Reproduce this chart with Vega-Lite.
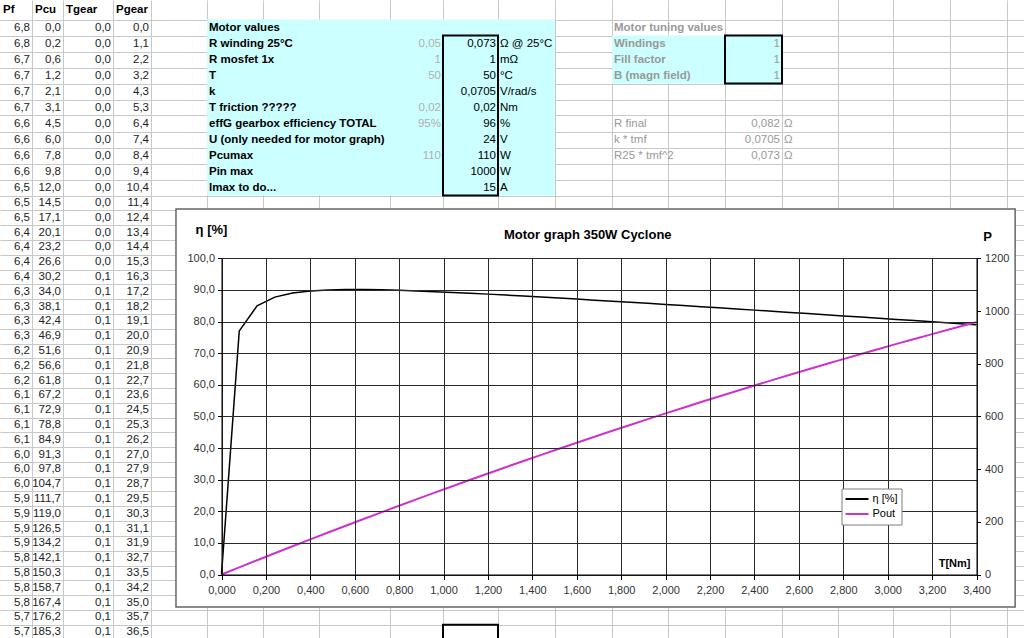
{
"$schema":"https://vega.github.io/schema/vega-lite/v6.json",
"width":1024,"height":638,"autosize":"none","padding":0,"background":"#ffffff",
"title":{"text":"Motor graph 350W Cyclone","anchor":"start","frame":"group","offset":0,"dx":504,"dy":251.5,"baseline":"alphabetic","fontSize":13,"fontWeight":"bold","font":"Liberation Sans","color":"#000000"},
"config":{"font":"Liberation Sans","view":{"stroke":null},"locale":{"number":{"decimal":",","thousands":".","grouping":[3],"currency":["","€"]}}},
"datasets":{
"tbl":[
{"r":0,"Pf":6.8,"Pcu":0.0,"Tgear":0.0,"Pgear":0.0},
{"r":1,"Pf":6.8,"Pcu":0.2,"Tgear":0.0,"Pgear":1.1},
{"r":2,"Pf":6.7,"Pcu":0.6,"Tgear":0.0,"Pgear":2.2},
{"r":3,"Pf":6.7,"Pcu":1.2,"Tgear":0.0,"Pgear":3.2},
{"r":4,"Pf":6.7,"Pcu":2.1,"Tgear":0.0,"Pgear":4.3},
{"r":5,"Pf":6.7,"Pcu":3.1,"Tgear":0.0,"Pgear":5.3},
{"r":6,"Pf":6.6,"Pcu":4.5,"Tgear":0.0,"Pgear":6.4},
{"r":7,"Pf":6.6,"Pcu":6.0,"Tgear":0.0,"Pgear":7.4},
{"r":8,"Pf":6.6,"Pcu":7.8,"Tgear":0.0,"Pgear":8.4},
{"r":9,"Pf":6.6,"Pcu":9.8,"Tgear":0.0,"Pgear":9.4},
{"r":10,"Pf":6.5,"Pcu":12.0,"Tgear":0.0,"Pgear":10.4},
{"r":11,"Pf":6.5,"Pcu":14.5,"Tgear":0.0,"Pgear":11.4},
{"r":12,"Pf":6.5,"Pcu":17.1,"Tgear":0.0,"Pgear":12.4},
{"r":13,"Pf":6.4,"Pcu":20.1,"Tgear":0.0,"Pgear":13.4},
{"r":14,"Pf":6.4,"Pcu":23.2,"Tgear":0.0,"Pgear":14.4},
{"r":15,"Pf":6.4,"Pcu":26.6,"Tgear":0.0,"Pgear":15.3},
{"r":16,"Pf":6.4,"Pcu":30.2,"Tgear":0.1,"Pgear":16.3},
{"r":17,"Pf":6.3,"Pcu":34.0,"Tgear":0.1,"Pgear":17.2},
{"r":18,"Pf":6.3,"Pcu":38.1,"Tgear":0.1,"Pgear":18.2},
{"r":19,"Pf":6.3,"Pcu":42.4,"Tgear":0.1,"Pgear":19.1},
{"r":20,"Pf":6.3,"Pcu":46.9,"Tgear":0.1,"Pgear":20.0},
{"r":21,"Pf":6.2,"Pcu":51.6,"Tgear":0.1,"Pgear":20.9},
{"r":22,"Pf":6.2,"Pcu":56.6,"Tgear":0.1,"Pgear":21.8},
{"r":23,"Pf":6.2,"Pcu":61.8,"Tgear":0.1,"Pgear":22.7},
{"r":24,"Pf":6.1,"Pcu":67.2,"Tgear":0.1,"Pgear":23.6},
{"r":25,"Pf":6.1,"Pcu":72.9,"Tgear":0.1,"Pgear":24.5},
{"r":26,"Pf":6.1,"Pcu":78.8,"Tgear":0.1,"Pgear":25.3},
{"r":27,"Pf":6.1,"Pcu":84.9,"Tgear":0.1,"Pgear":26.2},
{"r":28,"Pf":6.0,"Pcu":91.3,"Tgear":0.1,"Pgear":27.0},
{"r":29,"Pf":6.0,"Pcu":97.8,"Tgear":0.1,"Pgear":27.9},
{"r":30,"Pf":6.0,"Pcu":104.7,"Tgear":0.1,"Pgear":28.7},
{"r":31,"Pf":5.9,"Pcu":111.7,"Tgear":0.1,"Pgear":29.5},
{"r":32,"Pf":5.9,"Pcu":119.0,"Tgear":0.1,"Pgear":30.3},
{"r":33,"Pf":5.9,"Pcu":126.5,"Tgear":0.1,"Pgear":31.1},
{"r":34,"Pf":5.9,"Pcu":134.2,"Tgear":0.1,"Pgear":31.9},
{"r":35,"Pf":5.8,"Pcu":142.1,"Tgear":0.1,"Pgear":32.7},
{"r":36,"Pf":5.8,"Pcu":150.3,"Tgear":0.1,"Pgear":33.5},
{"r":37,"Pf":5.8,"Pcu":158.7,"Tgear":0.1,"Pgear":34.2},
{"r":38,"Pf":5.8,"Pcu":167.4,"Tgear":0.1,"Pgear":35.0},
{"r":39,"Pf":5.7,"Pcu":176.2,"Tgear":0.1,"Pgear":35.7},
{"r":40,"Pf":5.7,"Pcu":185.3,"Tgear":0.1,"Pgear":36.5}
],
"motorRows":[
{"r":0,"label":"Motor values"},
{"r":1,"label":"R winding 25°C","ref":"0,05","val":"0,073","unit":"Ω @ 25°C"},
{"r":2,"label":"R mosfet 1x","ref":"1","val":"1","unit":"mΩ"},
{"r":3,"label":"T","ref":"50","val":"50","unit":"°C"},
{"r":4,"label":"k","val":"0,0705","unit":"V/rad/s"},
{"r":5,"label":"T friction ?????","ref":"0,02","val":"0,02","unit":"Nm"},
{"r":6,"label":"effG gearbox efficiency TOTAL","ref":"95%","val":"96","unit":"%"},
{"r":7,"label":"U (only needed for motor graph)","val":"24","unit":"V"},
{"r":8,"label":"Pcumax","ref":"110","val":"110","unit":"W"},
{"r":9,"label":"Pin max","val":"1000","unit":"W"},
{"r":10,"label":"Imax to do...","val":"15","unit":"A"}
],
"tuneTop":[
{"r":0,"label":"Motor tuning values"},
{"r":1,"label":"Windings","val":"1"},
{"r":2,"label":"Fill factor","val":"1"},
{"r":3,"label":"B (magn field)","val":"1"}
],
"tuneCalc":[
{"r":6,"label":"R final","val":"0,082","unit":"Ω"},
{"r":7,"label":"k * tmf","val":"0,0705","unit":"Ω"},
{"r":8,"label":"R25 * tmf^2","val":"0,073","unit":"Ω"}
],
"curve":[
{"T":0,"eta":0,"P":0},
{"T":0.08,"eta":77.03,"P":27.1},
{"T":0.16,"eta":84.94,"P":54.0},
{"T":0.24,"eta":87.73,"P":80.6},
{"T":0.32,"eta":89.01,"P":107.1},
{"T":0.40,"eta":89.66,"P":133.3},
{"T":0.48,"eta":89.98,"P":159.3},
{"T":0.56,"eta":90.10,"P":185.1},
{"T":0.64,"eta":90.10,"P":210.6},
{"T":0.72,"eta":90.02,"P":236.0},
{"T":0.80,"eta":89.87,"P":261.1},
{"T":0.88,"eta":89.69,"P":286.0},
{"T":0.96,"eta":89.46,"P":310.7},
{"T":1.04,"eta":89.22,"P":335.1},
{"T":1.12,"eta":88.95,"P":359.4},
{"T":1.20,"eta":88.67,"P":383.4},
{"T":1.28,"eta":88.38,"P":407.2},
{"T":1.36,"eta":88.07,"P":430.7},
{"T":1.44,"eta":87.76,"P":454.1},
{"T":1.52,"eta":87.44,"P":477.2},
{"T":1.60,"eta":87.11,"P":500.2},
{"T":1.68,"eta":86.77,"P":522.9},
{"T":1.76,"eta":86.43,"P":545.3},
{"T":1.84,"eta":86.09,"P":567.6},
{"T":1.92,"eta":85.75,"P":589.6},
{"T":2.00,"eta":85.39,"P":611.5},
{"T":2.08,"eta":85.04,"P":633.1},
{"T":2.16,"eta":84.69,"P":654.4},
{"T":2.24,"eta":84.33,"P":675.6},
{"T":2.32,"eta":83.97,"P":696.5},
{"T":2.40,"eta":83.61,"P":717.2},
{"T":2.48,"eta":83.24,"P":737.7},
{"T":2.56,"eta":82.88,"P":758.0},
{"T":2.64,"eta":82.51,"P":778.1},
{"T":2.72,"eta":82.15,"P":797.9},
{"T":2.80,"eta":81.78,"P":817.5},
{"T":2.88,"eta":81.41,"P":836.9},
{"T":2.96,"eta":81.04,"P":856.1},
{"T":3.04,"eta":80.66,"P":875.1},
{"T":3.12,"eta":80.29,"P":893.8},
{"T":3.20,"eta":79.92,"P":912.3},
{"T":3.28,"eta":79.55,"P":930.6},
{"T":3.36,"eta":79.17,"P":948.7},
{"T":3.40,"eta":78.98,"P":957.7}
]
},
"layer":[
{"layer":[
{"data":{"name":"tbl"},"mark":{"type":"text","align":"right","dx":-2,"fontSize":11.5,"color":"#222222"},
 "encoding":{"x":{"datum":1,"type":"quantitative","scale":{"type":"linear","domain":[0,1,2,3,4,5,6,7,8,9,10,11,12,13,14,15,16,17,18,19,20],"range":[0,32,63,113,151,207,263,319,390,443,498,555,612,668,725,782,838,893,950,1007,1064],"nice":false,"zero":false},
   "axis":{"orient":"top","values":[1,2,3,4,5,6,7,8,9,10,11,12,13,14,15,16,17,18,19],"tickCount":60,"grid":true,"gridColor":"#c8c8c8","gridWidth":1,"labels":false,"ticks":false,"domain":false,"title":null}},
  "y":{"field":"r","type":"quantitative","scale":{"type":"linear","domain":[-1.5,-0.5,10.5,41.5],"range":[0,19.5,195.5,654.3],"nice":false,"zero":false},
   "axis":{"orient":"left","values":[-0.5,0.5,1.5,2.5,3.5,4.5,5.5,6.5,7.5,8.5,9.5,10.5,11.5,12.5,13.5,14.5,15.5,16.5,17.5,18.5,19.5,20.5,21.5,22.5,23.5,24.5,25.5,26.5,27.5,28.5,29.5,30.5,31.5,32.5,33.5,34.5,35.5,36.5,37.5,38.5,39.5,40.5],"tickCount":60,"grid":true,"gridColor":"#c8c8c8","gridWidth":1,"labels":false,"ticks":false,"domain":false,"title":null}},
  "text":{"field":"Pf","type":"quantitative","format":".1f"}}},
{"data":{"name":"tbl"},"mark":{"type":"text","align":"right","dx":-2,"fontSize":11.5,"color":"#222222"},
 "encoding":{"x":{"datum":2,"type":"quantitative","scale":{"type":"linear","domain":[0,1,2,3,4,5,6,7,8,9,10,11,12,13,14,15,16,17,18,19,20],"range":[0,32,63,113,151,207,263,319,390,443,498,555,612,668,725,782,838,893,950,1007,1064],"nice":false,"zero":false}},
  "y":{"field":"r","type":"quantitative","scale":{"type":"linear","domain":[-1.5,-0.5,10.5,41.5],"range":[0,19.5,195.5,654.3],"nice":false,"zero":false}},
  "text":{"field":"Pcu","type":"quantitative","format":".1f"}}},
{"data":{"name":"tbl"},"mark":{"type":"text","align":"right","dx":-2,"fontSize":11.5,"color":"#222222"},
 "encoding":{"x":{"datum":3,"type":"quantitative","scale":{"type":"linear","domain":[0,1,2,3,4,5,6,7,8,9,10,11,12,13,14,15,16,17,18,19,20],"range":[0,32,63,113,151,207,263,319,390,443,498,555,612,668,725,782,838,893,950,1007,1064],"nice":false,"zero":false}},
  "y":{"field":"r","type":"quantitative","scale":{"type":"linear","domain":[-1.5,-0.5,10.5,41.5],"range":[0,19.5,195.5,654.3],"nice":false,"zero":false}},
  "text":{"field":"Tgear","type":"quantitative","format":".1f"}}},
{"data":{"name":"tbl"},"mark":{"type":"text","align":"right","dx":-2,"fontSize":11.5,"color":"#222222"},
 "encoding":{"x":{"datum":4,"type":"quantitative","scale":{"type":"linear","domain":[0,1,2,3,4,5,6,7,8,9,10,11,12,13,14,15,16,17,18,19,20],"range":[0,32,63,113,151,207,263,319,390,443,498,555,612,668,725,782,838,893,950,1007,1064],"nice":false,"zero":false}},
  "y":{"field":"r","type":"quantitative","scale":{"type":"linear","domain":[-1.5,-0.5,10.5,41.5],"range":[0,19.5,195.5,654.3],"nice":false,"zero":false}},
  "text":{"field":"Pgear","type":"quantitative","format":".1f"}}},
{"data":{"values":[{}]},"mark":{"type":"text","text":"Pf","align":"left","dx":3,"fontSize":11.5,"fontWeight":"bold","color":"#000000"},
 "encoding":{"x":{"datum":0,"type":"quantitative","scale":{"type":"linear","domain":[0,1,2,3,4,5,6,7,8,9,10,11,12,13,14,15,16,17,18,19,20],"range":[0,32,63,113,151,207,263,319,390,443,498,555,612,668,725,782,838,893,950,1007,1064],"nice":false,"zero":false}},
  "y":{"datum":-1,"type":"quantitative","scale":{"type":"linear","domain":[-1.5,-0.5,10.5,41.5],"range":[0,19.5,195.5,654.3],"nice":false,"zero":false}}}},
{"data":{"values":[{}]},"mark":{"type":"text","text":"Pcu","align":"left","dx":3,"fontSize":11.5,"fontWeight":"bold","color":"#000000"},
 "encoding":{"x":{"datum":1,"type":"quantitative","scale":{"type":"linear","domain":[0,1,2,3,4,5,6,7,8,9,10,11,12,13,14,15,16,17,18,19,20],"range":[0,32,63,113,151,207,263,319,390,443,498,555,612,668,725,782,838,893,950,1007,1064],"nice":false,"zero":false}},
  "y":{"datum":-1,"type":"quantitative","scale":{"type":"linear","domain":[-1.5,-0.5,10.5,41.5],"range":[0,19.5,195.5,654.3],"nice":false,"zero":false}}}},
{"data":{"values":[{}]},"mark":{"type":"text","text":"Tgear","align":"left","dx":3,"fontSize":11.5,"fontWeight":"bold","color":"#000000"},
 "encoding":{"x":{"datum":2,"type":"quantitative","scale":{"type":"linear","domain":[0,1,2,3,4,5,6,7,8,9,10,11,12,13,14,15,16,17,18,19,20],"range":[0,32,63,113,151,207,263,319,390,443,498,555,612,668,725,782,838,893,950,1007,1064],"nice":false,"zero":false}},
  "y":{"datum":-1,"type":"quantitative","scale":{"type":"linear","domain":[-1.5,-0.5,10.5,41.5],"range":[0,19.5,195.5,654.3],"nice":false,"zero":false}}}},
{"data":{"values":[{}]},"mark":{"type":"text","text":"Pgear","align":"left","dx":3,"fontSize":11.5,"fontWeight":"bold","color":"#000000"},
 "encoding":{"x":{"datum":3,"type":"quantitative","scale":{"type":"linear","domain":[0,1,2,3,4,5,6,7,8,9,10,11,12,13,14,15,16,17,18,19,20],"range":[0,32,63,113,151,207,263,319,390,443,498,555,612,668,725,782,838,893,950,1007,1064],"nice":false,"zero":false}},
  "y":{"datum":-1,"type":"quantitative","scale":{"type":"linear","domain":[-1.5,-0.5,10.5,41.5],"range":[0,19.5,195.5,654.3],"nice":false,"zero":false}}}},
{"data":{"values":[{}]},"mark":{"type":"rect","color":"#ccffff"},
 "encoding":{"x":{"datum":5,"type":"quantitative","scale":{"type":"linear","domain":[0,1,2,3,4,5,6,7,8,9,10,11,12,13,14,15,16,17,18,19,20],"range":[0,32,63,113,151,207,263,319,390,443,498,555,612,668,725,782,838,893,950,1007,1064],"nice":false,"zero":false}},"x2":{"datum":11},
  "y":{"datum":-0.5,"type":"quantitative","scale":{"type":"linear","domain":[-1.5,-0.5,10.5,41.5],"range":[0,19.5,195.5,654.3],"nice":false,"zero":false}},"y2":{"datum":10.5}}},
{"data":{"values":[{}]},"mark":{"type":"rect","color":"#ccffff"},
 "encoding":{"x":{"datum":12,"type":"quantitative","scale":{"type":"linear","domain":[0,1,2,3,4,5,6,7,8,9,10,11,12,13,14,15,16,17,18,19,20],"range":[0,32,63,113,151,207,263,319,390,443,498,555,612,668,725,782,838,893,950,1007,1064],"nice":false,"zero":false}},"x2":{"datum":15},
  "y":{"datum":0.5,"type":"quantitative","scale":{"type":"linear","domain":[-1.5,-0.5,10.5,41.5],"range":[0,19.5,195.5,654.3],"nice":false,"zero":false}},"y2":{"datum":3.5}}},
{"data":{"values":[{}]},"mark":{"type":"rect","filled":false,"stroke":"#000000","strokeWidth":2},
 "encoding":{"x":{"datum":9,"type":"quantitative","scale":{"type":"linear","domain":[0,1,2,3,4,5,6,7,8,9,10,11,12,13,14,15,16,17,18,19,20],"range":[0,32,63,113,151,207,263,319,390,443,498,555,612,668,725,782,838,893,950,1007,1064],"nice":false,"zero":false}},"x2":{"datum":10},
  "y":{"datum":0.5,"type":"quantitative","scale":{"type":"linear","domain":[-1.5,-0.5,10.5,41.5],"range":[0,19.5,195.5,654.3],"nice":false,"zero":false}},"y2":{"datum":10.5}}},
{"data":{"values":[{}]},"mark":{"type":"rect","filled":false,"stroke":"#000000","strokeWidth":2},
 "encoding":{"x":{"datum":14,"type":"quantitative","scale":{"type":"linear","domain":[0,1,2,3,4,5,6,7,8,9,10,11,12,13,14,15,16,17,18,19,20],"range":[0,32,63,113,151,207,263,319,390,443,498,555,612,668,725,782,838,893,950,1007,1064],"nice":false,"zero":false}},"x2":{"datum":15},
  "y":{"datum":0.5,"type":"quantitative","scale":{"type":"linear","domain":[-1.5,-0.5,10.5,41.5],"range":[0,19.5,195.5,654.3],"nice":false,"zero":false}},"y2":{"datum":3.5}}},
{"data":{"values":[{}]},"mark":{"type":"rect","filled":false,"stroke":"#000000","strokeWidth":2},
 "encoding":{"x":{"datum":9,"type":"quantitative","scale":{"type":"linear","domain":[0,1,2,3,4,5,6,7,8,9,10,11,12,13,14,15,16,17,18,19,20],"range":[0,32,63,113,151,207,263,319,390,443,498,555,612,668,725,782,838,893,950,1007,1064],"nice":false,"zero":false}},"x2":{"datum":10},
  "y":{"datum":39.5,"type":"quantitative","scale":{"type":"linear","domain":[-1.5,-0.5,10.5,41.5],"range":[0,19.5,195.5,654.3],"nice":false,"zero":false}},"y2":{"datum":40.5}}},
{"data":{"name":"motorRows"},"mark":{"type":"text","align":"left","dx":2,"fontSize":11.5,"fontWeight":"bold","color":"#000000"},
 "encoding":{"x":{"datum":5,"type":"quantitative","scale":{"type":"linear","domain":[0,1,2,3,4,5,6,7,8,9,10,11,12,13,14,15,16,17,18,19,20],"range":[0,32,63,113,151,207,263,319,390,443,498,555,612,668,725,782,838,893,950,1007,1064],"nice":false,"zero":false}},
  "y":{"field":"r","type":"quantitative","scale":{"type":"linear","domain":[-1.5,-0.5,10.5,41.5],"range":[0,19.5,195.5,654.3],"nice":false,"zero":false}},
  "text":{"field":"label","type":"nominal"}}},
{"data":{"name":"motorRows"},"transform":[{"filter":"datum.ref"}],"mark":{"type":"text","align":"right","dx":-2,"fontSize":11.5,"color":"#b0b0b0"},
 "encoding":{"x":{"datum":9,"type":"quantitative","scale":{"type":"linear","domain":[0,1,2,3,4,5,6,7,8,9,10,11,12,13,14,15,16,17,18,19,20],"range":[0,32,63,113,151,207,263,319,390,443,498,555,612,668,725,782,838,893,950,1007,1064],"nice":false,"zero":false}},
  "y":{"field":"r","type":"quantitative","scale":{"type":"linear","domain":[-1.5,-0.5,10.5,41.5],"range":[0,19.5,195.5,654.3],"nice":false,"zero":false}},
  "text":{"field":"ref","type":"nominal"}}},
{"data":{"name":"motorRows"},"transform":[{"filter":"datum.val"}],"mark":{"type":"text","align":"right","dx":-2,"fontSize":11.5,"color":"#000000"},
 "encoding":{"x":{"datum":10,"type":"quantitative","scale":{"type":"linear","domain":[0,1,2,3,4,5,6,7,8,9,10,11,12,13,14,15,16,17,18,19,20],"range":[0,32,63,113,151,207,263,319,390,443,498,555,612,668,725,782,838,893,950,1007,1064],"nice":false,"zero":false}},
  "y":{"field":"r","type":"quantitative","scale":{"type":"linear","domain":[-1.5,-0.5,10.5,41.5],"range":[0,19.5,195.5,654.3],"nice":false,"zero":false}},
  "text":{"field":"val","type":"nominal"}}},
{"data":{"name":"motorRows"},"transform":[{"filter":"datum.unit"}],"mark":{"type":"text","align":"left","dx":2,"fontSize":11.5,"color":"#000000"},
 "encoding":{"x":{"datum":10,"type":"quantitative","scale":{"type":"linear","domain":[0,1,2,3,4,5,6,7,8,9,10,11,12,13,14,15,16,17,18,19,20],"range":[0,32,63,113,151,207,263,319,390,443,498,555,612,668,725,782,838,893,950,1007,1064],"nice":false,"zero":false}},
  "y":{"field":"r","type":"quantitative","scale":{"type":"linear","domain":[-1.5,-0.5,10.5,41.5],"range":[0,19.5,195.5,654.3],"nice":false,"zero":false}},
  "text":{"field":"unit","type":"nominal"}}},
{"data":{"name":"tuneTop"},"mark":{"type":"text","align":"left","dx":2,"fontSize":11.5,"fontWeight":"bold","color":"#999999"},
 "encoding":{"x":{"datum":12,"type":"quantitative","scale":{"type":"linear","domain":[0,1,2,3,4,5,6,7,8,9,10,11,12,13,14,15,16,17,18,19,20],"range":[0,32,63,113,151,207,263,319,390,443,498,555,612,668,725,782,838,893,950,1007,1064],"nice":false,"zero":false}},
  "y":{"field":"r","type":"quantitative","scale":{"type":"linear","domain":[-1.5,-0.5,10.5,41.5],"range":[0,19.5,195.5,654.3],"nice":false,"zero":false}},
  "text":{"field":"label","type":"nominal"}}},
{"data":{"name":"tuneTop"},"transform":[{"filter":"datum.val"}],"mark":{"type":"text","align":"right","dx":-2,"fontSize":11.5,"color":"#999999"},
 "encoding":{"x":{"datum":15,"type":"quantitative","scale":{"type":"linear","domain":[0,1,2,3,4,5,6,7,8,9,10,11,12,13,14,15,16,17,18,19,20],"range":[0,32,63,113,151,207,263,319,390,443,498,555,612,668,725,782,838,893,950,1007,1064],"nice":false,"zero":false}},
  "y":{"field":"r","type":"quantitative","scale":{"type":"linear","domain":[-1.5,-0.5,10.5,41.5],"range":[0,19.5,195.5,654.3],"nice":false,"zero":false}},
  "text":{"field":"val","type":"nominal"}}},
{"data":{"name":"tuneCalc"},"mark":{"type":"text","align":"left","dx":2,"fontSize":11.5,"color":"#999999"},
 "encoding":{"x":{"datum":12,"type":"quantitative","scale":{"type":"linear","domain":[0,1,2,3,4,5,6,7,8,9,10,11,12,13,14,15,16,17,18,19,20],"range":[0,32,63,113,151,207,263,319,390,443,498,555,612,668,725,782,838,893,950,1007,1064],"nice":false,"zero":false}},
  "y":{"field":"r","type":"quantitative","scale":{"type":"linear","domain":[-1.5,-0.5,10.5,41.5],"range":[0,19.5,195.5,654.3],"nice":false,"zero":false}},
  "text":{"field":"label","type":"nominal"}}},
{"data":{"name":"tuneCalc"},"mark":{"type":"text","align":"right","dx":-2,"fontSize":11.5,"color":"#999999"},
 "encoding":{"x":{"datum":15,"type":"quantitative","scale":{"type":"linear","domain":[0,1,2,3,4,5,6,7,8,9,10,11,12,13,14,15,16,17,18,19,20],"range":[0,32,63,113,151,207,263,319,390,443,498,555,612,668,725,782,838,893,950,1007,1064],"nice":false,"zero":false}},
  "y":{"field":"r","type":"quantitative","scale":{"type":"linear","domain":[-1.5,-0.5,10.5,41.5],"range":[0,19.5,195.5,654.3],"nice":false,"zero":false}},
  "text":{"field":"val","type":"nominal"}}},
{"data":{"name":"tuneCalc"},"mark":{"type":"text","align":"left","dx":2,"fontSize":11.5,"color":"#999999"},
 "encoding":{"x":{"datum":15,"type":"quantitative","scale":{"type":"linear","domain":[0,1,2,3,4,5,6,7,8,9,10,11,12,13,14,15,16,17,18,19,20],"range":[0,32,63,113,151,207,263,319,390,443,498,555,612,668,725,782,838,893,950,1007,1064],"nice":false,"zero":false}},
  "y":{"field":"r","type":"quantitative","scale":{"type":"linear","domain":[-1.5,-0.5,10.5,41.5],"range":[0,19.5,195.5,654.3],"nice":false,"zero":false}},
  "text":{"field":"unit","type":"nominal"}}}
]},
{"layer":[
 {"layer":[
  {"data":{"values":[{}]},"mark":{"type":"rect","fill":"#ffffff","stroke":"#666666","strokeWidth":1.5},
   "encoding":{"x":{"datum":-0.205,"type":"quantitative","scale":{"domain":[0,3.4],"range":[221.5,976.5],"nice":false,"zero":false}},"x2":{"datum":3.574},
    "y":{"datum":115.6,"type":"quantitative","scale":{"domain":[0,100],"range":[574.5,258.3],"nice":false,"zero":false}},"y2":{"datum":-10.3}}},
  {"data":{"name":"curve"},"mark":{"type":"line","strokeWidth":1.5},
   "encoding":{
    "x":{"field":"T","type":"quantitative","scale":{"domain":[0,3.4],"range":[221.5,976.5],"nice":false,"zero":false},
     "axis":{"orient":"bottom","offset":-63.5,"values":[0,0.2,0.4,0.6,0.8,1,1.2,1.4,1.6,1.8,2,2.2,2.4,2.6,2.8,3,3.2,3.4],"tickCount":60,"format":".3f","grid":false,"domainColor":"#000000","domainWidth":1,"tickColor":"#000000","tickSize":5,"labelFont":"Liberation Sans","labelFontSize":11,"labelColor":"#333333","labelPadding":5,"labelFlush":false,"labelOverlap":false,"title":"T[Nm]","titleX":970,"titleY":-8.5,"titleAlign":"right","titleBaseline":"alphabetic","titleFont":"Liberation Sans","titleFontSize":11,"titleFontWeight":"bold","titleColor":"#000000","zindex":1}},
    "y":{"field":"eta","type":"quantitative","scale":{"domain":[0,100],"range":[574.5,258.3],"nice":false,"zero":false},
     "axis":{"orient":"left","offset":-221.5,"values":[0,10,20,30,40,50,60,70,80,90,100],"tickCount":60,"format":".1f","grid":true,"gridColor":"#2a2a2a","gridWidth":1,"domainColor":"#000000","tickColor":"#000000","tickSize":4,"labelFont":"Liberation Sans","labelFontSize":11,"labelColor":"#333333","labelPadding":3,"labelFlush":false,"labelOverlap":false,"title":"η [%]","titleAngle":0,"titleX":-10.5,"titleY":233,"titleAlign":"center","titleBaseline":"alphabetic","titleFont":"Liberation Sans","titleFontSize":13,"titleFontWeight":"bold","titleColor":"#000000","zindex":1}},
    "color":{"datum":"η [%]","type":"nominal","scale":{"domain":["η [%]","Pout"],"range":["#000000","#cc33cc"]},
     "legend":{"orient":"none","legendX":841.5,"legendY":488.5,"title":null,"direction":"vertical","symbolType":"stroke","symbolSize":529,"symbolStrokeWidth":2,"clipHeight":15,"rowPadding":0,"padding":3,"labelOffset":3,"labelFont":"Liberation Sans","labelFontSize":11,"labelColor":"#000000","strokeColor":"#7f7f7f","fillColor":"#ffffff","zindex":2}}}}
 ]},
 {"data":{"name":"curve"},"mark":{"type":"line","strokeWidth":2},
  "encoding":{
   "x":{"field":"T","type":"quantitative","scale":{"domain":[0,3.4],"range":[221.5,976.5],"nice":false,"zero":false},
    "axis":{"orient":"top","values":[0,0.2,0.4,0.6,0.8,1,1.2,1.4,1.6,1.8,2,2.2,2.4,2.6,2.8,3,3.2,3.4],"tickCount":60,"grid":true,"gridColor":"#2a2a2a","gridWidth":1,"labels":false,"ticks":false,"domain":false,"title":null,"zindex":1}},
   "y":{"field":"P","type":"quantitative","scale":{"domain":[0,1200],"range":[574.5,258.3],"nice":false,"zero":false},
    "axis":{"orient":"right","offset":-47.5,"values":[0,200,400,600,800,1000,1200],"tickCount":60,"format":"d","grid":false,"domainColor":"#000000","tickColor":"#000000","tickSize":4,"labelFont":"Liberation Sans","labelFontSize":11,"labelColor":"#333333","labelPadding":4,"labelFlush":false,"labelOverlap":false,"title":"P","titleAngle":0,"titleX":10.5,"titleY":240,"titleAlign":"center","titleBaseline":"alphabetic","titleFont":"Liberation Sans","titleFontSize":13,"titleFontWeight":"bold","titleColor":"#000000","zindex":1}},
   "color":{"datum":"Pout","type":"nominal","scale":{"domain":["η [%]","Pout"],"range":["#000000","#cc33cc"]},"legend":null}}}
],
"resolve":{"scale":{"y":"independent"},"axis":{"x":"independent"}}}
],
"resolve":{"scale":{"x":"independent","y":"independent"}}
}
